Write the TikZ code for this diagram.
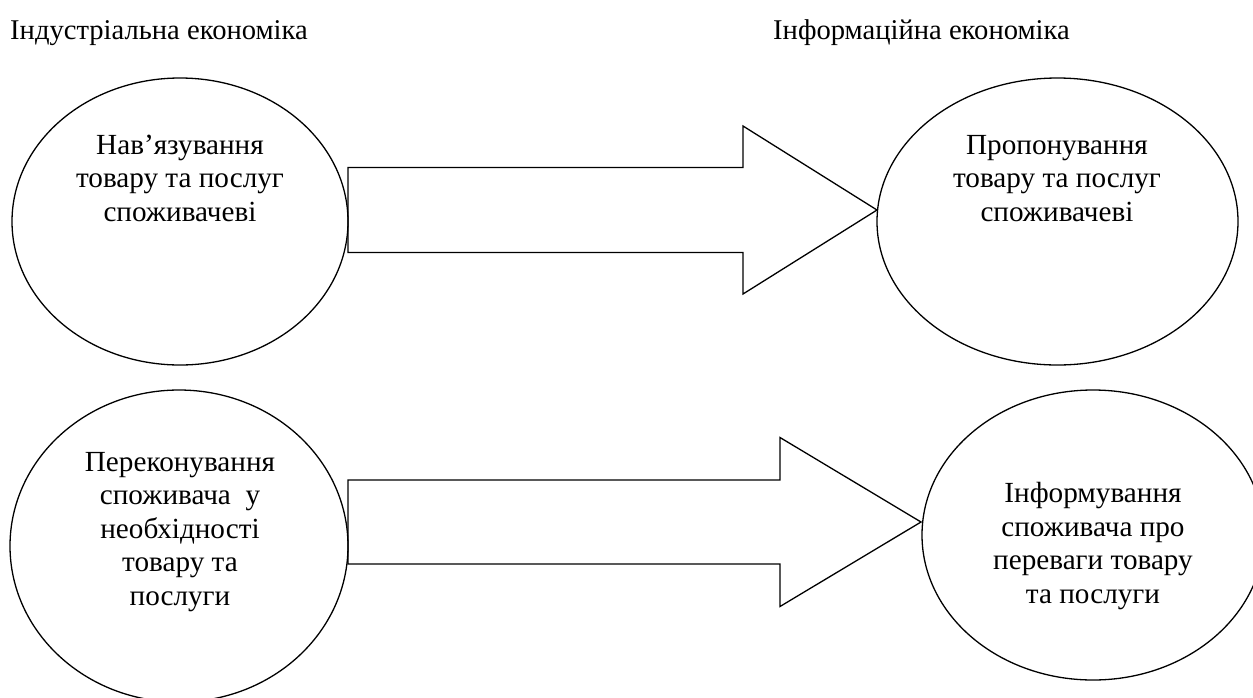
\documentclass[tikz,border=0pt]{standalone}
\usepackage{fontspec}
\setmainfont{Liberation Serif}
\usetikzlibrary{shapes.geometric}
\tikzset{
  oval/.style={draw, ellipse, line width=1.3pt, inner sep=0pt},
  blockarrow/.style={draw, line width=1.3pt, line join=miter},
  ovaltext/.style={align=center, anchor=base, inner sep=0pt, font=\fontsize{29.2}{33.5}\selectfont},
  title/.style={anchor=base west, inner sep=0pt, font=\fontsize{28.6}{33.5}\selectfont}
}
\begin{document}
\begin{tikzpicture}[x=1pt, y=-1pt]
\useasboundingbox (0,0) rectangle (1253,697);
\node[title] (tl) at (10,39) {Індустріальна економіка};
\node[title] (tr) at (773,39) {Інформаційна економіка};
% ellipses
\node[oval, minimum width=336pt, minimum height=287pt] (e1) at (180,221.5) {};
\node[oval, minimum width=361pt, minimum height=287pt] (e2) at (1057.5,221.5) {};
\node[oval, minimum width=338pt, minimum height=312pt] (e3) at (179,546) {};
\node[oval, minimum width=342pt, minimum height=290pt] (e4) at (1093,535) {};
% texts (anchored at the baseline of their last line)
\node[ovaltext] (t1) at (180,221) {Нав’язування\\товару та послуг\\споживачеві};
\node[ovaltext] (t2) at (1057,221) {Пропонування\\товару та послуг\\споживачеві};
\node[ovaltext] (t3) at (180,605) {Переконування\\споживача\ \ у\\необхідності\\товару та\\послуги};
\node[ovaltext] (t4) at (1093,603) {Інформування\\споживача про\\переваги товару\\та послуги};
% block arrows
\coordinate (a1tip) at (877,210);
\draw[blockarrow] (348,167.5) -- (743,167.5) -- (743,126) -- (a1tip) -- (743,294) -- (743,252.5) -- (348,252.5) -- cycle;
\coordinate (a2tip) at (921,522);
\draw[blockarrow] (348,480) -- (780,480) -- (780,437.5) -- (a2tip) -- (780,606.5) -- (780,564) -- (348,564) -- cycle;
\end{tikzpicture}
\end{document}
